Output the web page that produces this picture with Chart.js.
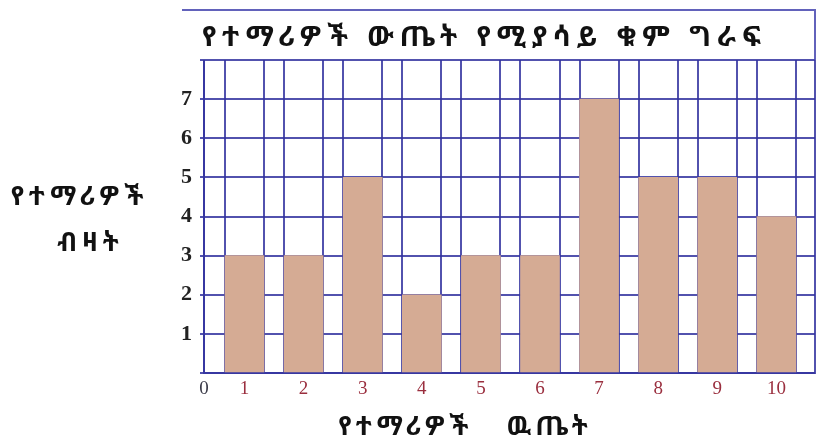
<!DOCTYPE html>
<html>
<head>
<meta charset="utf-8">
<script src="https://cdn.jsdelivr.net/npm/chart.js@4"></script>
<style>
  html, body { margin: 0; padding: 0; background: #fff; }
  #wrap { width: 816px; height: 444px; position: relative; }
</style>
</head>
<body>
<div id="wrap"><canvas id="c" width="816" height="444"></canvas></div>
<script>
// ---- data ----
const categories = [1, 2, 3, 4, 5, 6, 7, 8, 9, 10];
const counts = [3, 3, 5, 2, 3, 3, 7, 5, 5, 4];
const xTickLabels = ['1', '2', '3', '4', '5', '6', '7', '8', '9', '10'];
const originLabel = '0';
const yTickLabels = ['1', '2', '3', '4', '5', '6', '7'];
const chartTitle = 'የተማሪዎች ውጤት የሚያሳይ ቁም ግራፍ';
const yTitleLines = ['የተማሪዎች', 'ብዛት'];
const xTitle = 'የተማሪዎች   ዉጤት';

// ---- style ----
const gridBlue = 'rgba(52,52,160,0.85)';
const barFill = '#d5ab94';
const halfBar = 0.33;
const xMin = 0.315, xMax = 10.653;
const yMax = 8;
const ethFont = '"Noto Sans Ethiopic", "Abyssinica SIL", "Noto Serif Ethiopic", "DejaVu Sans", sans-serif';

const edgeTicks = [xMin];
categories.forEach(c => { edgeTicks.push(c - halfBar, c, c + halfBar); });
edgeTicks.push(xMax);

function spacedText(ctx, text, x, y, spacing, align) {
  ctx.letterSpacing = spacing + 'px';
  const w = ctx.measureText(text).width - spacing;
  let sx = x;
  if (align === 'center') sx = x - w / 2;
  ctx.textAlign = 'left';
  ctx.fillText(text, sx, y);
  ctx.letterSpacing = '0px';
}

const textPlugin = {
  id: 'texts',
  afterDraw(chart) {
    const ctx = chart.ctx;
    ctx.save();
    // title box lines
    ctx.strokeStyle = 'rgba(70,70,175,0.85)';
    ctx.lineWidth = 2;
    ctx.beginPath();
    ctx.moveTo(182, 10);
    ctx.lineTo(815, 10);
    ctx.lineTo(815, chart.chartArea.top);
    ctx.stroke();

    ctx.fillStyle = '#111';
    ctx.textBaseline = 'middle';
    ctx.font = 'bold 28px ' + ethFont;
    spacedText(ctx, chartTitle, 202, 38, 6, 'left');

    ctx.font = 'bold 26px ' + ethFont;
    spacedText(ctx, yTitleLines[0], 77, 198, 5, 'center');
    spacedText(ctx, yTitleLines[1], 88, 244, 5, 'center');

    spacedText(ctx, xTitle, 463, 428, 4.5, 'center');
    ctx.restore();
  }
};

new Chart(document.getElementById('c'), {
  type: 'bar',
  data: {
    datasets: [{
      data: categories.map((c, i) => ({ x: c, y: counts[i] })),
      backgroundColor: barFill,
      borderWidth: 0,
      barThickness: 'flex',
      categoryPercentage: 1,
      barPercentage: 2 * halfBar
    }]
  },
  options: {
    responsive: false,
    animation: false,
    events: [],
    layout: { padding: { top: 60, right: 1, left: 0, bottom: 0 } },
    plugins: { legend: { display: false }, title: { display: false }, tooltip: { enabled: false } },
    scales: {
      x: {
        type: 'linear',
        min: xMin,
        max: xMax,
        offset: false,
        z: 1,
        afterBuildTicks(axis) { axis.ticks = edgeTicks.map(v => ({ value: v })); },
        afterFit(axis) { axis.height = 71; axis.paddingRight = 0; axis.paddingLeft = 0; },
        grid: {
          offset: false,
          color: (ctx) => (ctx.tick && Number.isInteger(ctx.tick.value)) ? 'rgba(0,0,0,0)' : gridBlue,
          lineWidth: 2,
          drawTicks: false
        },
        border: { display: true, color: gridBlue, width: 2 },
        ticks: {
          autoSkip: false,
          maxRotation: 0,
          padding: 5,
          font: { family: '"Liberation Serif", serif', size: 19 },
          color: (ctx) => (ctx.tick && ctx.tick.value === xMin) ? '#3a3a48' : '#9a2e3e',
          callback: (v) => {
            if (v === xMin) return originLabel;
            const idx = categories.indexOf(v);
            return idx >= 0 ? xTickLabels[idx] : '';
          }
        }
      },
      y: {
        min: 0,
        max: yMax,
        afterFit(axis) { axis.width = 204; },
        grid: { color: gridBlue, lineWidth: 2, drawTicks: true, tickLength: 4 },
        border: { display: true, color: gridBlue, width: 2 },
        ticks: {
          stepSize: 1,
          padding: 8,
          font: { family: '"Liberation Serif", serif', size: 22, weight: 'bold' },
          color: '#222',
          callback: (v) => yTickLabels.includes(String(v)) ? String(v) : ''
        }
      }
    }
  },
  plugins: [textPlugin]
});
</script>
</body>
</html>
